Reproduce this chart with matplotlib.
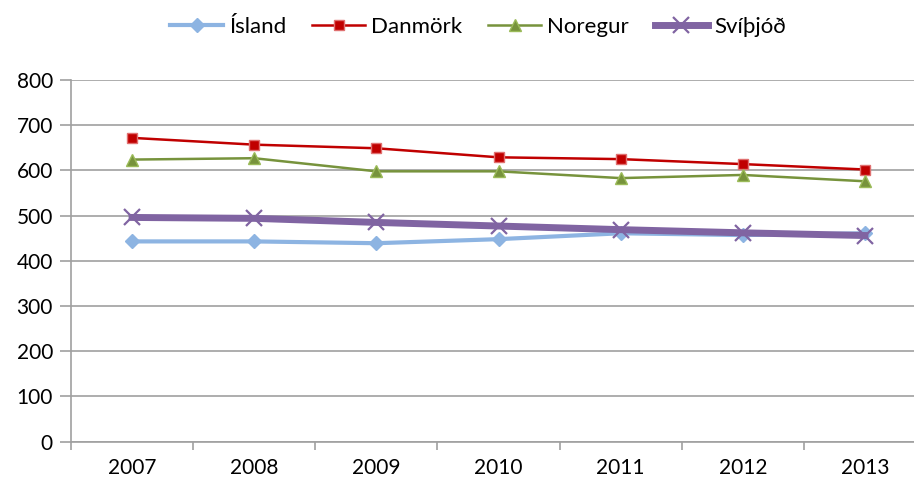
import matplotlib.pyplot as plt
import numpy as np

plt.rcParams['font.family'] = ['Lato', 'DejaVu Sans']

years = ['2007', '2008', '2009', '2010', '2011', '2012', '2013']
island = [443, 443, 439, 448, 461, 457, 461]
danmork = [672, 657, 649, 629, 625, 614, 602]
noregur = [624, 627, 598, 598, 583, 590, 576]
svithjod = [496, 494, 485, 477, 469, 462, 456]

x = np.arange(len(years))

fig = plt.figure(figsize=(9.14, 4.79), dpi=100)
ax = fig.add_axes([71 / 914, 37.3 / 479, 855 / 914, 361.7 / 479])

ax.plot(x, island, color='#8DB4E2', lw=3, marker='D', ms=7.5,
        mfc='#8DB4E2', mec='#8DB4E2', label='Ísland', zorder=3)
ax.plot(x, danmork, color='#C00000', lw=1.8, marker='s', ms=7,
        mfc='#C00000', mec='#E07070', mew=1, label='Danmörk', zorder=4)
ax.plot(x, noregur, color='#77933C', lw=1.8, marker='^', ms=9,
        mfc='#77933C', mec='#9BBB59', mew=1, label='Noregur', zorder=4)
ax.plot(x, svithjod, color='#8064A2', lw=5, marker='x', ms=11, mew=1.6,
        label='Svíþjóð', zorder=5)

ax.set_xlim(-0.5, 6.5)
ax.set_ylim(0, 800)
ax.set_yticks(range(0, 801, 100))
ax.set_xticks(x)
ax.set_xticklabels(years)
ax.set_xticks(np.arange(-0.5, 7, 1), minor=True)
ax.tick_params(axis='x', which='major', length=0, pad=12, labelsize=15)
ax.tick_params(axis='x', which='minor', length=6, color='#A0A0A0', width=1.2)
ax.tick_params(axis='y', length=8, color='#A0A0A0', width=1.2, pad=5, labelsize=15)

ax.grid(axis='y', color='#A0A0A0', lw=1.2)
ax.set_axisbelow(True)
for s in ['top', 'right']:
    ax.spines[s].set_visible(False)
ax.spines['left'].set_color('#A0A0A0')
ax.spines['bottom'].set_color('#A0A0A0')
ax.spines['left'].set_linewidth(1.2)
ax.spines['bottom'].set_linewidth(1.2)

fig.legend(loc='center', bbox_to_anchor=(478 / 914, 1 - 27 / 479), ncol=4,
           frameon=False, fontsize=16, handlelength=2.4, columnspacing=1.15,
           handletextpad=0.27)

fig.savefig('out.png', dpi=100)
